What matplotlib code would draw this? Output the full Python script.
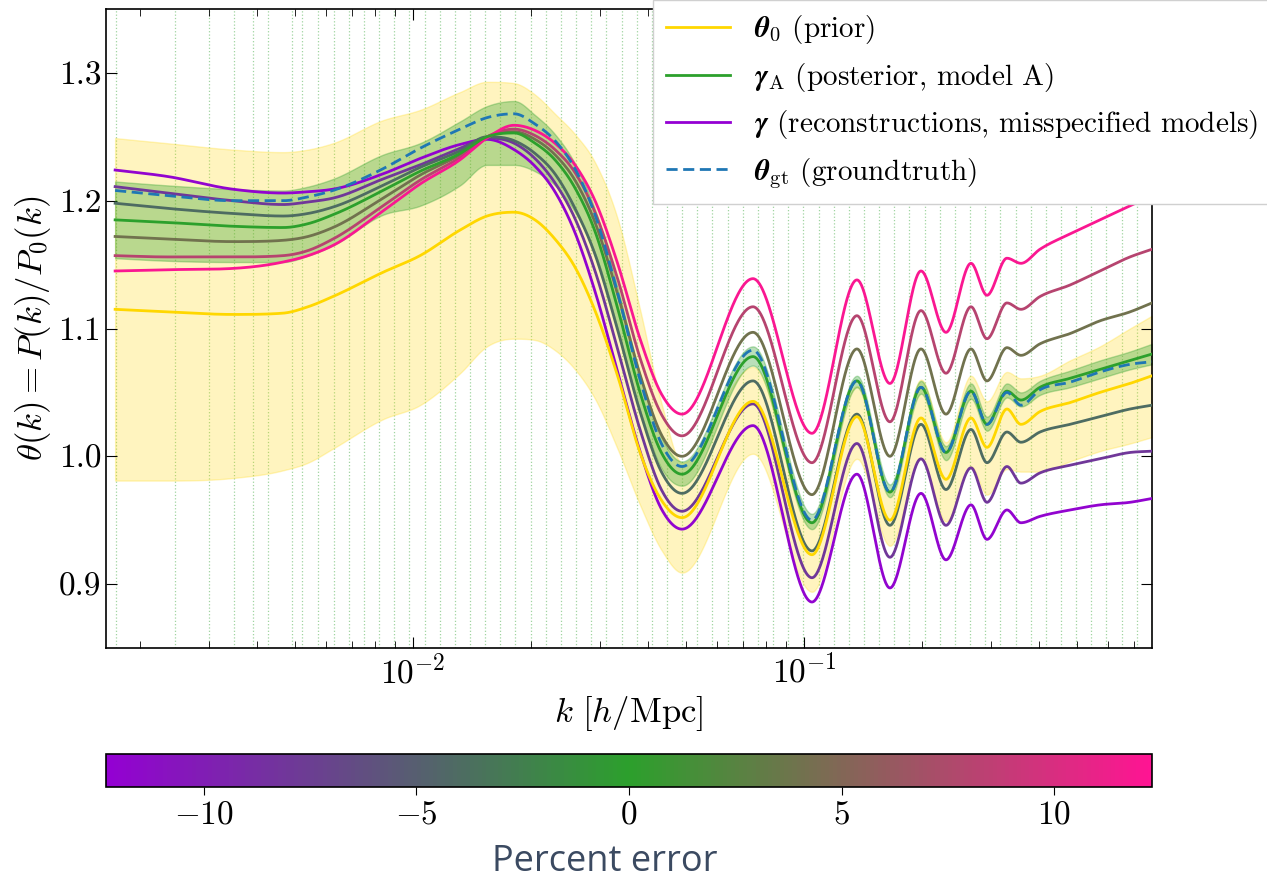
import numpy as np
import matplotlib
import matplotlib.pyplot as plt
from matplotlib.colors import LinearSegmentedColormap, Normalize
from matplotlib.lines import Line2D

plt.rcParams.update({
    "font.family": "serif",
    "font.serif": ["cmr10"],
    "mathtext.fontset": "cm",
    "axes.formatter.use_mathtext": True,
    "axes.unicode_minus": True,
    "font.size": 24,
    "xtick.direction": "in",
    "ytick.direction": "in",
    "xtick.top": True,
    "ytick.right": True,
    "xtick.major.size": 8,
    "xtick.minor.size": 5,
    "ytick.major.size": 8,
    "axes.linewidth": 1.2,
})

# wavenumbers [h/Mpc]
k = np.array([0.00173, 0.00235, 0.00346, 0.00465, 0.005388, 0.00624, 0.00838,
              0.01042, 0.01319, 0.01546, 0.01813, 0.02051, 0.02307, 0.02596,
              0.02921, 0.03344, 0.03807, 0.04333, 0.04875, 0.07405, 0.1048,
              0.1366, 0.1659, 0.1992, 0.2308, 0.2674, 0.2938, 0.3305, 0.3589,
              0.4014, 0.4789, 0.5715, 0.6821, 0.7763])

# prior mean and its band
theta_prior = [1.115, 1.113, 1.111, 1.112, 1.117, 1.125, 1.144, 1.157, 1.177, 1.188,
               1.191, 1.185, 1.170, 1.148, 1.114, 1.062, 1.003, 0.965, 0.952, 1.043,
               0.923, 1.031, 0.950, 1.030, 0.982, 1.030, 1.007, 1.037, 1.025, 1.035,
               1.042, 1.050, 1.057, 1.063]
prior_hi = [1.249, 1.245, 1.240, 1.238, 1.240, 1.245, 1.263, 1.271, 1.285, 1.293,
            1.292, 1.283, 1.268, 1.252, 1.230, 1.185, 1.115, 1.040, 0.995, 1.070,
            0.949, 1.055, 0.973, 1.060, 1.011, 1.063, 1.043, 1.066, 1.061, 1.063,
            1.075, 1.086, 1.100, 1.110]
prior_lo = [0.981, 0.981, 0.983, 0.989, 0.995, 1.006, 1.029, 1.040, 1.065, 1.086,
            1.092, 1.091, 1.083, 1.068, 1.045, 1.005, 0.962, 0.926, 0.909, 1.002,
            0.894, 0.998, 0.930, 0.998, 0.949, 0.992, 0.970, 0.990, 0.988, 0.988,
            0.996, 1.004, 1.010, 1.015]

# posterior, model A
gamma_A = [1.185, 1.183, 1.180, 1.179, 1.182, 1.189, 1.208, 1.223, 1.237, 1.250,
           1.253, 1.245, 1.232, 1.210, 1.176, 1.115, 1.050, 1.002, 0.986, 1.078,
           0.948, 1.059, 0.972, 1.054, 1.003, 1.051, 1.025, 1.051, 1.044, 1.054,
           1.061, 1.068, 1.075, 1.080]
gamma_A_hi = [1.215, 1.212, 1.209, 1.208, 1.211, 1.217, 1.236, 1.245, 1.262, 1.274,
              1.278, 1.267, 1.252, 1.229, 1.193, 1.131, 1.064, 1.014, 0.996, 1.086,
              0.955, 1.063, 0.978, 1.059, 1.008, 1.057, 1.031, 1.057, 1.050, 1.059,
              1.067, 1.075, 1.082, 1.088]
gamma_A_lo = [1.155, 1.153, 1.152, 1.152, 1.157, 1.165, 1.189, 1.196, 1.212, 1.228,
              1.228, 1.223, 1.212, 1.191, 1.159, 1.099, 1.036, 0.990, 0.977, 1.071,
              0.943, 1.054, 0.968, 1.049, 0.997, 1.045, 1.020, 1.046, 1.039, 1.048,
              1.054, 1.061, 1.068, 1.072]

# groundtruth
theta_gt = [1.208, 1.204, 1.200, 1.200, 1.203, 1.208, 1.225, 1.241, 1.256, 1.265,
            1.268, 1.260, 1.247, 1.225, 1.189, 1.127, 1.060, 1.009, 0.992, 1.083,
            0.950, 1.059, 0.972, 1.054, 1.003, 1.051, 1.025, 1.050, 1.040, 1.052,
            1.058, 1.066, 1.072, 1.074]

# reconstructions under misspecified models, by percent error
gamma_m12 = [1.224, 1.219, 1.209, 1.206, 1.207, 1.209, 1.221, 1.233, 1.244, 1.248,
             1.240, 1.227, 1.207, 1.175, 1.129, 1.065, 1.004, 0.958, 0.943, 1.024,
             0.886, 0.986, 0.897, 0.971, 0.919, 0.962, 0.935, 0.958, 0.948, 0.953,
             0.958, 0.962, 0.964, 0.967]
gamma_m8 = [1.211, 1.206, 1.200, 1.197, 1.199, 1.202, 1.217, 1.228, 1.241, 1.249,
            1.245, 1.233, 1.214, 1.186, 1.145, 1.083, 1.021, 0.973, 0.957, 1.041,
            0.905, 1.010, 0.921, 0.998, 0.946, 0.991, 0.964, 0.992, 0.979, 0.987,
            0.993, 0.998, 1.003, 1.004]
gamma_m4 = [1.198, 1.194, 1.190, 1.188, 1.190, 1.195, 1.212, 1.226, 1.239, 1.250,
            1.247, 1.237, 1.221, 1.194, 1.158, 1.098, 1.035, 0.987, 0.971, 1.059,
            0.926, 1.033, 0.946, 1.025, 0.974, 1.021, 0.995, 1.019, 1.011, 1.019,
            1.025, 1.031, 1.037, 1.040]
gamma_p4 = [1.172, 1.170, 1.168, 1.169, 1.172, 1.179, 1.202, 1.220, 1.236, 1.250,
            1.254, 1.248, 1.236, 1.216, 1.183, 1.126, 1.064, 1.016, 1.000, 1.097,
            0.970, 1.084, 1.000, 1.084, 1.033, 1.084, 1.059, 1.085, 1.079, 1.088,
            1.096, 1.106, 1.113, 1.120]
gamma_p8 = [1.157, 1.156, 1.156, 1.157, 1.161, 1.170, 1.196, 1.216, 1.234, 1.250,
            1.256, 1.251, 1.240, 1.222, 1.191, 1.138, 1.077, 1.032, 1.016, 1.117,
            0.995, 1.110, 1.027, 1.114, 1.065, 1.117, 1.092, 1.120, 1.115, 1.125,
            1.134, 1.145, 1.156, 1.162]
gamma_p12 = [1.145, 1.146, 1.147, 1.152, 1.157, 1.165, 1.192, 1.213, 1.232, 1.249,
             1.259, 1.255, 1.245, 1.228, 1.200, 1.150, 1.092, 1.048, 1.033, 1.139,
             1.018, 1.138, 1.057, 1.145, 1.097, 1.151, 1.126, 1.155, 1.151, 1.162,
             1.174, 1.185, 1.196, 1.204]

errors = [-12, -8, -4, 4, 8, 12]
reconstructions = [gamma_m12, gamma_m8, gamma_m4, gamma_p4, gamma_p8, gamma_p12]
err_max = 12.3

# fundamental-mode bins, then logarithmic bins
kf = 0.001738
k_bins = np.concatenate([kf * np.sqrt([1, 2, 3, 4, 5, 6, 8, 9]),
                         np.geomspace(0.00573, 0.7763, 56)])


def smooth(x, y, xs):
    # cubic Hermite through the nodes, flat at local extrema
    x = np.asarray(x, float)
    y = np.asarray(y, float)
    h = np.diff(x)
    d = np.diff(y) / h
    m = np.zeros_like(y)
    m[0], m[-1] = d[0], d[-1]
    for i in range(1, len(y) - 1):
        if d[i - 1] * d[i] > 0:
            c = (d[i - 1] * h[i] + d[i] * h[i - 1]) / (h[i - 1] + h[i])
            lim = 3 * min(abs(d[i - 1]), abs(d[i]))
            m[i] = np.sign(c) * min(abs(c), lim)
    idx = np.clip(np.searchsorted(x, xs) - 1, 0, len(x) - 2)
    t = (xs - x[idx]) / h[idx]
    h00 = 2 * t**3 - 3 * t**2 + 1
    h10 = t**3 - 2 * t**2 + t
    h01 = -2 * t**3 + 3 * t**2
    h11 = t**3 - t**2
    return (h00 * y[idx] + h10 * h[idx] * m[idx]
            + h01 * y[idx + 1] + h11 * h[idx] * m[idx + 1])


lk = np.log10(k)
lk_fine = np.linspace(lk[0], lk[-1], 1500)
k_fine = 10**lk_fine


def curve(vals):
    return smooth(lk, vals, lk_fine)


cmap = LinearSegmentedColormap.from_list("err", ["darkviolet", "#2ca02c", "deeppink"])
norm = Normalize(vmin=-err_max, vmax=err_max)

fig = plt.figure(figsize=(12.67, 8.82), dpi=100)
ax = fig.add_axes([0.0837, 0.2653, 0.8255, 0.7245])
cax = fig.add_axes([0.0837, 0.1077, 0.8255, 0.0374])

for kb in k_bins:
    ax.axvline(kb, color="#2ca02c", ls=":", lw=0.9, alpha=0.45, zorder=0)

ax.fill_between(k_fine, curve(prior_lo), curve(prior_hi), color="gold", alpha=0.25,
                zorder=1)
ax.fill_between(k_fine, curve(gamma_A_lo), curve(gamma_A_hi), color="#2ca02c",
                alpha=0.33, zorder=2)

for err, vals in zip(errors, reconstructions):
    ax.plot(k_fine, curve(vals), color=cmap(norm(err)), lw=2.0, zorder=3)

ax.plot(k_fine, curve(theta_prior), color="gold", lw=2.0, zorder=3)
ax.plot(k_fine, curve(gamma_A), color="#2ca02c", lw=2.0, zorder=4)
ax.plot(k_fine, curve(theta_gt), color="#1f77b4", lw=2.0, ls="--", dashes=(4, 2),
        zorder=5)

ax.set_xscale("log")
ax.set_xlim(0.00164, 0.7763)
ax.set_ylim(0.85, 1.35)
ax.set_yticks([0.9, 1.0, 1.1, 1.2, 1.3])
ax.set_yticklabels(["0.9", "1.0", "1.1", "1.2", "1.3"])
ax.set_xlabel(r"$k\ [h/\mathrm{Mpc}]$", fontsize=25)
ax.set_ylabel(r"$\theta(k) = P(k)/P_0(k)$", fontsize=25)
ax.tick_params(which="both", labelsize=24)

handles = [
    Line2D([], [], color="gold", lw=2),
    Line2D([], [], color="#2ca02c", lw=2),
    Line2D([], [], color="darkviolet", lw=2),
    Line2D([], [], color="#1f77b4", lw=2, ls="--", dashes=(4, 2)),
]
labels = [
    r"$\boldsymbol{\theta}_0$ (prior)",
    r"$\boldsymbol{\gamma}_\mathrm{A}$ (posterior, model A)",
    r"$\boldsymbol{\gamma}$ (reconstructions, misspecified models)",
    r"$\boldsymbol{\theta}_\mathrm{gt}$ (groundtruth)",
]
leg = fig.legend(handles, labels, loc="upper left", bbox_to_anchor=(0.5154, 1.0),
                 fontsize=21, frameon=True, fancybox=False, framealpha=1,
                 edgecolor="#d0d0d0", handlelength=2.2, handletextpad=0.8,
                 borderpad=0.45, labelspacing=0.5, borderaxespad=0.0)
leg.set_zorder(10)

sm = matplotlib.cm.ScalarMappable(norm=norm, cmap=cmap)
cbar = fig.colorbar(sm, cax=cax, orientation="horizontal")
cbar.set_ticks([-10, -5, 0, 5, 10])
cbar.ax.tick_params(labelsize=24, direction="out", length=6)
fig.text(605 / 1267, 0.0125, "Percent error", ha="center", va="baseline",
         fontfamily="Open Sans", fontsize=26, color="#3b4a61")

fig.savefig("out.png", dpi=100)
